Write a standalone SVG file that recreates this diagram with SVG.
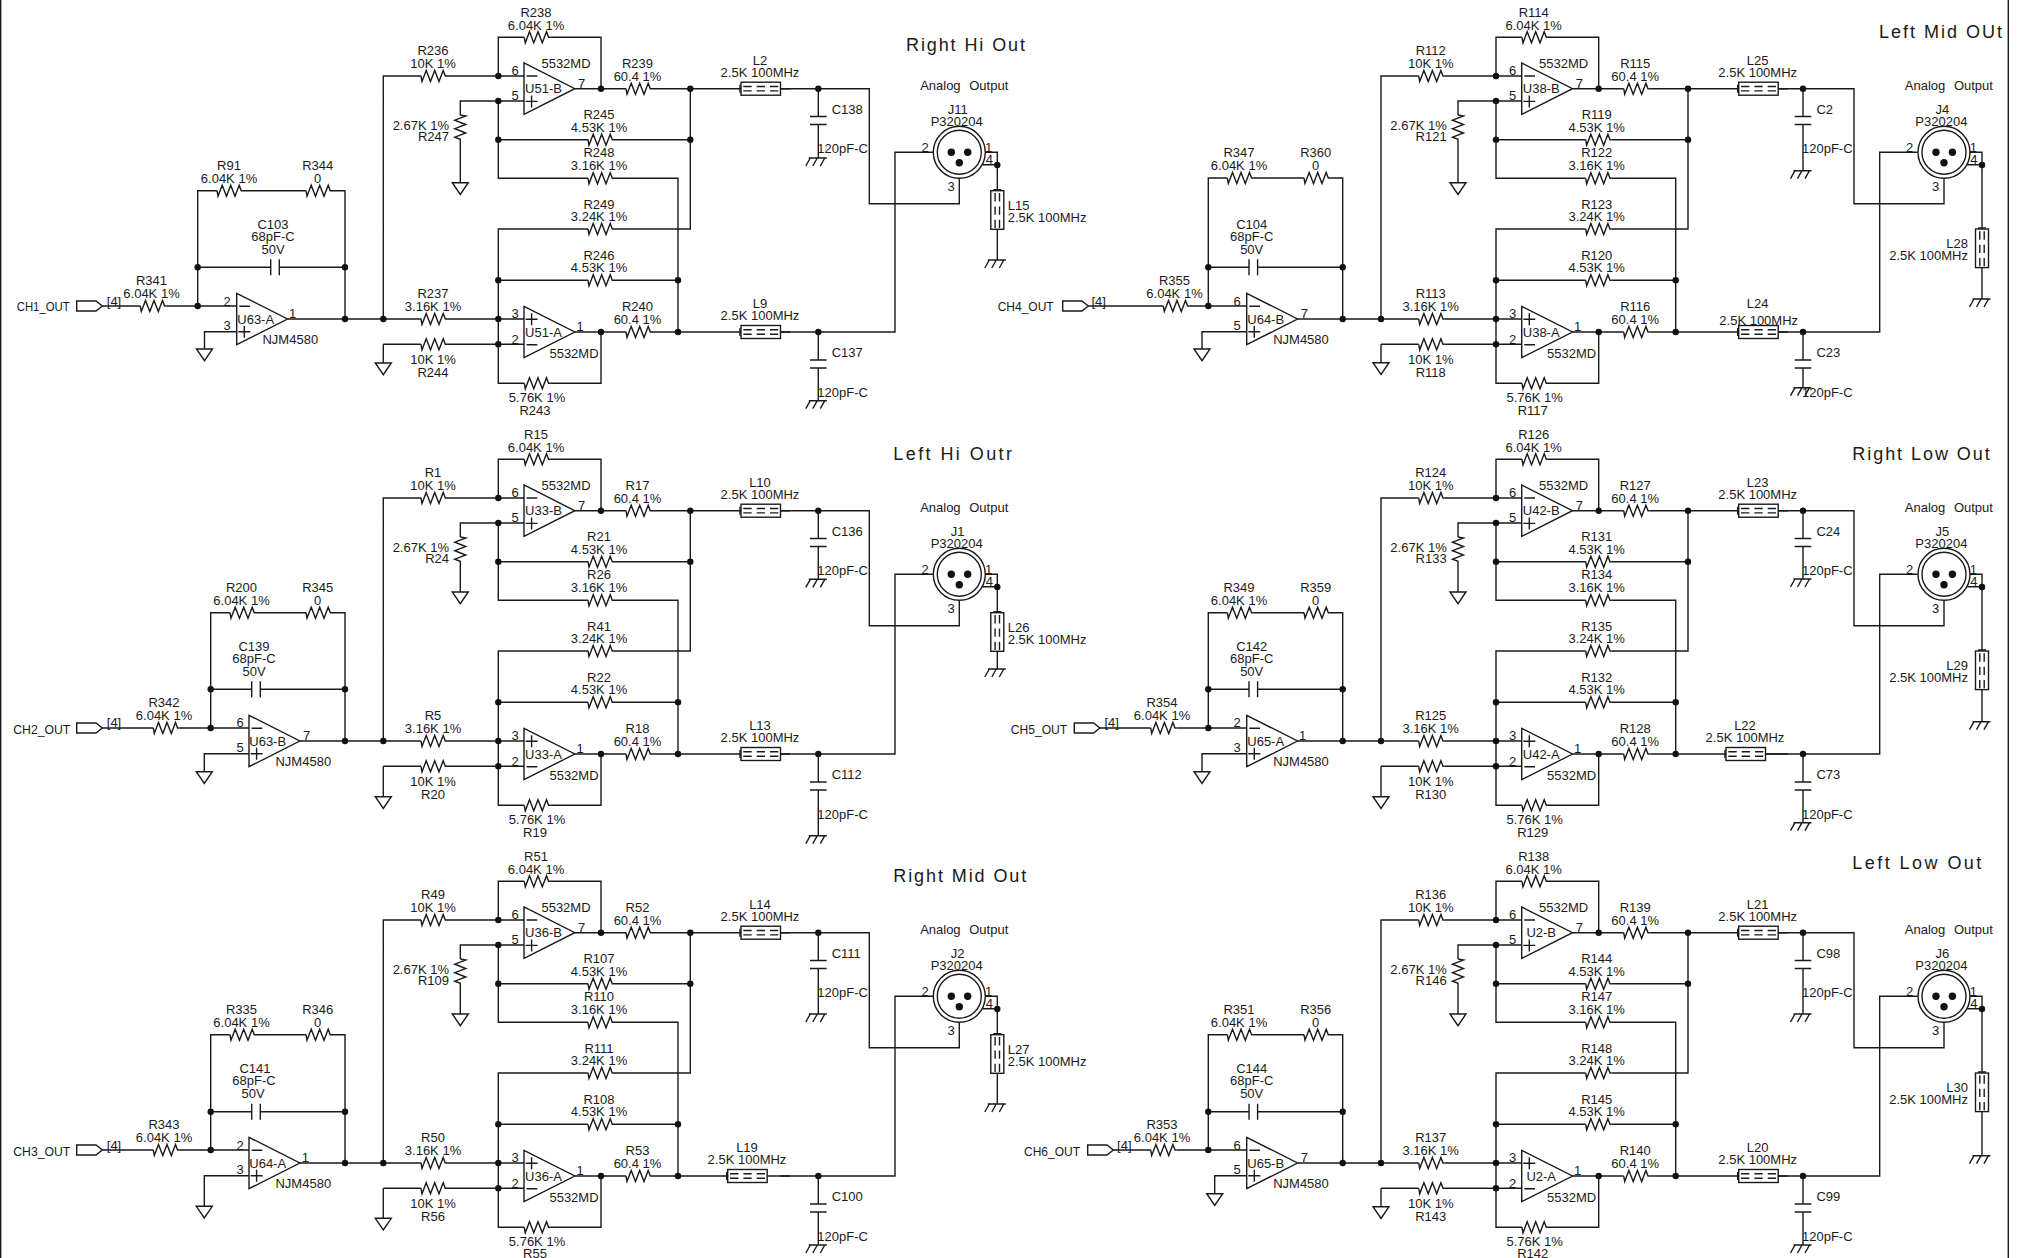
<svg xmlns="http://www.w3.org/2000/svg" width="2018" height="1258" viewBox="0 0 2018 1258">
<style>
text{font-family:"Liberation Sans",Arial,sans-serif;font-size:13px;fill:#1a1a1a;text-anchor:middle}
.s{text-anchor:start}.e{text-anchor:end}
.t{font-size:18px;text-anchor:start}
.w,.w path,.w use{fill:none;stroke:#1a1a1a;stroke-width:1.4}
.j{fill:#111;stroke:none}
.y{fill:none;stroke:#1a1a1a;stroke-width:1.4}
.f{fill:#fff;stroke:#1a1a1a;stroke-width:1.4}
.k{fill:#fff;stroke:none}
</style>
<defs>
<g id="r"><rect class="k" x="0" y="-2" width="26" height="4"/><path class="y" d="M0 0L1 5.5L5.2-5.5L9.5 5.5L13.7-5.5L18 5.5L22.2-5.5L24.3 0H26"/></g>
<g id="rv"><rect class="k" x="-2" y="0" width="4" height="26"/><path class="y" d="M0 0L5.5 1L-5.5 5.2L5.5 9.5L-5.5 13.7L5.5 18L-5.5 22.2L0 24.3V26"/></g>
<g id="c"><rect class="k" x="0" y="-2" width="8.6" height="4"/><path class="y" d="M0-8V8M8.6-8V8"/></g>
<g id="cv"><rect class="k" x="-2" y="0" width="4" height="8"/><path class="y" d="M-8.3 0H8.3M-8.3 8H8.3"/></g>
<g id="b"><rect class="f" x="0" y="-6.5" width="39.5" height="13"/><path class="y" d="M2.3-2.2H10.7M15.7-2.2H24M29-2.2H37.3M2.3 2.2H10.7M15.7 2.2H24M29 2.2H37.3M-1-4V4"/></g>
<g id="bv"><rect class="f" x="-6.5" y="0" width="13" height="38.6"/><path class="y" d="M-2.2 2.3V10.7M-2.2 15.7V24M-2.2 29V37.3M2.2 2.3V10.7M2.2 15.7V24M2.2 29V37.3M-4-1H4"/></g>
<path id="g" class="y" d="M-8 0H8L0 11.7Z"/>
<path id="ch" class="y" d="M-9.5 0H8.5M-8 0L-12.5 8M-1 0L-5.5 8M6.5 0L2 8"/>
<path id="om" class="y" d="M0-25.7V25.7L50.8 0ZM2.6-12.7H13.3M1.6 12.7H13.6M7.6 6.7V18.7"/>
<path id="op" class="y" d="M0-25.7V25.7L50.8 0ZM2.6 12.7H13.3M1.6-12.7H13.6M7.6-18.7V-6.7"/>
<path id="pt" class="y" d="M0-5H19.3L25.6 0L19.3 5H0Z"/>
<g id="x"><circle class="y" r="26"/><circle class="y" r="22"/><circle class="j" cx="-8" r="3.7"/><circle class="j" cx="8.4" r="3.7"/><circle class="j" cy="10.4" r="3.7"/></g>
<g id="sw"><path class="y" d="M383.3 319V76H524M345 319H524M498.3 76V37.3H601V88.7M524 101H460.3V115M498.3 101V178.3H678V332M498.3 139.7H690.3M575 88.7H790M690.3 88.7V229H498.3V383.3H601V332M498.3 280.3H678M498.3 344.3H524M383.3 344.3H498.3M575 332H790"/>
<g class="j"><circle cx="498.3" cy="76" r="3.2"/><circle cx="498.3" cy="101" r="3.2"/><circle cx="498.3" cy="139.7" r="3.2"/><circle cx="498.3" cy="280.3" r="3.2"/><circle cx="498.3" cy="319" r="3.2"/><circle cx="498.3" cy="344.3" r="3.2"/><circle cx="383.3" cy="319" r="3.2"/><circle cx="601" cy="88.7" r="3.2"/><circle cx="690.3" cy="88.7" r="3.2"/><circle cx="690.3" cy="139.7" r="3.2"/><circle cx="678" cy="280.3" r="3.2"/><circle cx="678" cy="332" r="3.2"/><circle cx="601" cy="332" r="3.2"/></g></g>
<g id="ow"><path class="y" d="M780 88.7H869.3V203.7H959.3V178.3M780 332H895V152.3H933M985 152.3H997.3V229M982.5 164.7H997.3"/><g class="j"><circle cx="818.3" cy="88.7" r="3.2"/><circle cx="818.3" cy="332" r="3.2"/><circle cx="997.3" cy="165" r="3.2"/></g></g>
</defs>
<rect width="2018" height="1258" fill="#fff"/>
<g id="frame"><path class="y" d="M.7 0V1258M2008.3 0V1258"/></g>

<g id="connectors">
<g transform="translate(0,0)"><use href="#sw"/><path class="y" d="M460.3 141V182.7M383.3 344.3V363"/></g>
<g transform="translate(0,422)"><use href="#sw"/><path class="y" d="M460.3 141V170M383.3 344.3V374.7"/></g>
<g transform="translate(0,844)"><use href="#sw"/><path class="y" d="M460.3 141V170M383.3 344.3V374.3"/></g>
<g transform="translate(997.7,0)"><use href="#sw"/><path class="y" d="M460.3 141V182.7M383.3 344.3V362.7"/></g>
<g transform="translate(997.7,422)"><use href="#sw"/><path class="y" d="M460.3 141V170M383.3 344.3V374.7"/></g>
<g transform="translate(997.7,844)"><use href="#sw"/><path class="y" d="M460.3 141V170M383.3 344.3V362.7"/></g>
<g transform="translate(0,0)"><use href="#ow"/><path class="y" d="M818.3 88.7V158M818.3 332V400.7M997.3 229V260"/></g>
<g transform="translate(0,422)"><use href="#ow"/><path class="y" d="M818.3 88.7V157.3M818.3 332V413.7M997.3 229V247"/></g>
<g transform="translate(0,844)"><use href="#ow"/><path class="y" d="M818.3 88.7V170M818.3 332V401M997.3 229V260"/></g>
<g transform="translate(984.7,0)"><use href="#ow"/><path class="y" d="M818.3 88.7V170.7M818.3 332V387.7M997.3 229V299"/></g>
<g transform="translate(984.7,422)"><use href="#ow"/><path class="y" d="M818.3 88.7V157M818.3 332V400.7M997.3 229V299.7"/></g>
<g transform="translate(984.7,844)"><use href="#ow"/><path class="y" d="M818.3 88.7V170M818.3 332V401M997.3 229V311.7"/></g>
<g><path class="y" d="M102.3 306H236.7M197.7 306V190.7H345V319M197.7 267.3H345M236.7 331.7H204.5V349M287.5 319H345"/><g class="j"><circle cx="197.7" cy="306" r="3.2"/><circle cx="197.7" cy="267.3" r="3.2"/><circle cx="345" cy="267.3" r="3.2"/><circle cx="345" cy="319" r="3.2"/></g></g>
<g transform="translate(0,422)"><path class="y" d="M102.3 306H249M210.7 306V190.7H345V319M210.7 267.3H345M249 331.7H204.3V349.7M299.8 319H345"/><g class="j"><circle cx="210.7" cy="306" r="3.2"/><circle cx="210.7" cy="267.3" r="3.2"/><circle cx="345" cy="267.3" r="3.2"/><circle cx="345" cy="319" r="3.2"/></g></g>
<g transform="translate(0,844)"><path class="y" d="M102.3 306H249M210.7 306V190.7H345V319M210.7 267.7H345M249 331.7H204.3V362.3M299.8 319H345"/><g class="j"><circle cx="210.7" cy="306" r="3.2"/><circle cx="210.7" cy="267.7" r="3.2"/><circle cx="345" cy="267.7" r="3.2"/><circle cx="345" cy="319" r="3.2"/></g></g>
<g><path class="y" d="M1088.3 306H1246.7M1208.3 306V178H1342.7V319M1208.3 267.3H1342.7M1246.7 331.7H1202V349M1297.5 319H1342.7"/><g class="j"><circle cx="1208.3" cy="306" r="3.2"/><circle cx="1208.3" cy="267.3" r="3.2"/><circle cx="1342.7" cy="267.3" r="3.2"/><circle cx="1342.7" cy="319" r="3.2"/></g></g>
<g transform="translate(0,422)"><path class="y" d="M1099.3 306H1246.7M1208.3 306V190.7H1342.7V319M1208.3 267.3H1342.7M1246.7 331.7H1202V349.7M1297.5 319H1342.7"/><g class="j"><circle cx="1208.3" cy="306" r="3.2"/><circle cx="1208.3" cy="267.3" r="3.2"/><circle cx="1342.7" cy="267.3" r="3.2"/><circle cx="1342.7" cy="319" r="3.2"/></g></g>
<g transform="translate(0,844)"><path class="y" d="M1113.3 306H1246.7M1208.3 306V190.7H1342.7V319M1208.3 267.7H1342.7M1246.7 331.7H1214.7V349.7M1297.5 319H1342.7"/><g class="j"><circle cx="1208.3" cy="306" r="3.2"/><circle cx="1208.3" cy="267.7" r="3.2"/><circle cx="1342.7" cy="267.7" r="3.2"/><circle cx="1342.7" cy="319" r="3.2"/></g></g>
</g>

<g id="titles">
<text class="t" x="906" y="51" textLength="119">Right Hi Out</text>
<text class="t" x="893.3" y="460" textLength="118.7">Left Hi Outr</text>
<text class="t" x="893.3" y="882" textLength="133">Right Mid Out</text>
<text class="t" x="1879" y="38" textLength="123">Left Mid OUt</text>
<text class="t" x="1852.3" y="460" textLength="137.4">Right Low Out</text>
<text class="t" x="1852.3" y="869" textLength="129">Left Low Out</text>
</g>

<!-- Block: Right Hi Out -->
<g id="stage-right-hi">
<g id="R236"><use href="#r" x="421" y="76"/><text x="433" y="55">R236</text><text x="433" y="67.5">10K 1%</text></g>
<g id="R237"><use href="#r" x="421" y="319"/><text x="433" y="298">R237</text><text x="433" y="310.5">3.16K 1%</text></g>
<g id="R244"><use href="#r" x="421" y="344.3"/><text x="433" y="364">10K 1%</text><text x="433" y="376.5">R244</text></g>
<g id="R238"><use href="#r" x="524.3" y="37.3"/><text x="536" y="17">R238</text><text x="536" y="29.5">6.04K 1%</text></g>
<g id="R239"><use href="#r" x="626" y="88.7"/><text x="637.5" y="68">R239</text><text x="637.5" y="80.5">60.4 1%</text></g>
<g id="R240"><use href="#r" x="626" y="332"/><text x="637.5" y="310.5">R240</text><text x="637.5" y="323.5">60.4 1%</text></g>
<g id="R243"><use href="#r" x="524.3" y="383.3"/><text x="537" y="402">5.76K 1%</text><text x="535" y="415">R243</text></g>
<g id="R245"><use href="#r" x="588" y="139.7"/><text x="599" y="119">R245</text><text x="599" y="131.5">4.53K 1%</text></g>
<g id="R248"><use href="#r" x="588" y="178.3"/><text x="599" y="157">R248</text><text x="599" y="170">3.16K 1%</text></g>
<g id="R249"><use href="#r" x="588" y="229"/><text x="599" y="208.5">R249</text><text x="599" y="221">3.24K 1%</text></g>
<g id="R246"><use href="#r" x="588" y="280.3"/><text x="599" y="260">R246</text><text x="599" y="272">4.53K 1%</text></g>
<g id="R247"><use href="#rv" x="460.3" y="115"/><text class="e" x="449" y="130">2.67K 1%</text><text class="e" x="449" y="141">R247</text><use href="#g" x="460.3" y="182.7"/><use href="#g" x="383.3" y="363"/></g>
<g id="U51-B"><use href="#om" x="524" y="88.7"/><text x="543.5" y="93.4">U51-B</text><text x="566" y="68">5532MD</text><text x="515" y="75">6</text><text x="515" y="100">5</text><text x="581.7" y="88">7</text></g>
<g id="U51-A"><use href="#op" x="524" y="332"/><text x="543.5" y="336.7">U51-A</text><text x="574" y="358">5532MD</text><text x="515" y="318">3</text><text x="515" y="344">2</text><text x="580" y="331">1</text></g>
<g id="L2"><use href="#b" x="741" y="88.7"/><text x="760" y="65">L2</text><text x="760" y="77">2.5K 100MHz</text></g>
<g id="L9"><use href="#b" x="741" y="332"/><text x="760" y="308">L9</text><text x="760" y="320">2.5K 100MHz</text></g>
</g>
<g id="output-right-hi">
<g id="C138"><use href="#cv" x="818.3" y="116.5"/><use href="#ch" x="818.3" y="158"/><text class="s" x="831.7" y="114">C138</text><text class="s" x="817.3" y="153">120pF-C</text></g>
<g id="C137"><use href="#cv" x="818.3" y="360"/><use href="#ch" x="818.3" y="400.7"/><text class="s" x="831.7" y="356.5">C137</text><text class="s" x="817.3" y="396.5">120pF-C</text></g>
<g id="J11"><use href="#x" x="959.3" y="152.3"/><text x="964.2" y="90" word-spacing="5">Analog Output</text><text x="957.7" y="114">J11</text><text x="956.7" y="126">P320204</text><text x="925" y="152">2</text><text x="988.7" y="151.7">1</text><text x="989.3" y="164">4</text><text x="951" y="191">3</text></g>
<g id="L15"><use href="#bv" x="997.3" y="190.7"/><use href="#ch" x="997.3" y="260"/><text class="s" x="1007.7" y="210">L15</text><text class="s" x="1007.7" y="221.5">2.5K 100MHz</text></g>
</g>
<g id="input-right-hi">
<g id="CH1_OUT"><use href="#pt" x="76.7" y="306"/><text class="s" x="16.7" y="311.4" textLength="53" lengthAdjust="spacingAndGlyphs">CH1_OUT</text><text x="114" y="305.7">[4]</text></g>
<g id="R341"><use href="#r" x="140.3" y="306"/><text x="151.5" y="285">R341</text><text x="151.5" y="298">6.04K 1%</text></g>
<g id="R91"><use href="#r" x="217" y="190.7"/><text x="229" y="170">R91</text><text x="229" y="183">6.04K 1%</text></g>
<g id="R344"><use href="#r" x="306" y="190.7"/><text x="317.7" y="170">R344</text><text x="317.7" y="183">0</text></g>
<g id="C103"><use href="#c" x="270.7" y="267.3"/><text x="273" y="229">C103</text><text x="273" y="241">68pF-C</text><text x="273" y="253.5">50V</text></g>
<g id="U63-A"><use href="#om" x="236.7" y="319"/><use href="#g" x="204.5" y="349"/><text x="255.7" y="323.7">U63-A</text><text x="290.3" y="344">NJM4580</text><text x="227" y="305.7">2</text><text x="227" y="329.7">3</text><text x="292.7" y="318">1</text></g>
</g>

<!-- Block: Left Hi Outr -->
<g id="stage-left-hi" transform="translate(0,422)">
<g id="R1"><use href="#r" x="421" y="76"/><text x="433" y="55">R1</text><text x="433" y="67.5">10K 1%</text></g>
<g id="R5"><use href="#r" x="421" y="319"/><text x="433" y="298">R5</text><text x="433" y="310.5">3.16K 1%</text></g>
<g id="R20"><use href="#r" x="421" y="344.3"/><text x="433" y="364">10K 1%</text><text x="433" y="376.5">R20</text></g>
<g id="R15"><use href="#r" x="524.3" y="37.3"/><text x="536" y="17">R15</text><text x="536" y="29.5">6.04K 1%</text></g>
<g id="R17"><use href="#r" x="626" y="88.7"/><text x="637.5" y="68">R17</text><text x="637.5" y="80.5">60.4 1%</text></g>
<g id="R18"><use href="#r" x="626" y="332"/><text x="637.5" y="310.5">R18</text><text x="637.5" y="323.5">60.4 1%</text></g>
<g id="R19"><use href="#r" x="524.3" y="383.3"/><text x="537" y="402">5.76K 1%</text><text x="535" y="415">R19</text></g>
<g id="R21"><use href="#r" x="588" y="139.7"/><text x="599" y="119">R21</text><text x="599" y="131.5">4.53K 1%</text></g>
<g id="R26"><use href="#r" x="588" y="178.3"/><text x="599" y="157">R26</text><text x="599" y="170">3.16K 1%</text></g>
<g id="R41"><use href="#r" x="588" y="229"/><text x="599" y="208.5">R41</text><text x="599" y="221">3.24K 1%</text></g>
<g id="R22"><use href="#r" x="588" y="280.3"/><text x="599" y="260">R22</text><text x="599" y="272">4.53K 1%</text></g>
<g id="R24"><use href="#rv" x="460.3" y="115"/><text class="e" x="449" y="130">2.67K 1%</text><text class="e" x="449" y="141">R24</text><use href="#g" x="460.3" y="170"/><use href="#g" x="383.3" y="374.7"/></g>
<g id="U33-B"><use href="#om" x="524" y="88.7"/><text x="543.5" y="93.4">U33-B</text><text x="566" y="68">5532MD</text><text x="515" y="75">6</text><text x="515" y="100">5</text><text x="581.7" y="88">7</text></g>
<g id="U33-A"><use href="#op" x="524" y="332"/><text x="543.5" y="336.7">U33-A</text><text x="574" y="358">5532MD</text><text x="515" y="318">3</text><text x="515" y="344">2</text><text x="580" y="331">1</text></g>
<g id="L10"><use href="#b" x="741" y="88.7"/><text x="760" y="65">L10</text><text x="760" y="77">2.5K 100MHz</text></g>
<g id="L13"><use href="#b" x="741" y="332"/><text x="760" y="308">L13</text><text x="760" y="320">2.5K 100MHz</text></g>
</g>
<g id="output-left-hi" transform="translate(0,422)">
<g id="C136"><use href="#cv" x="818.3" y="116.5"/><use href="#ch" x="818.3" y="157.3"/><text class="s" x="831.7" y="114">C136</text><text class="s" x="817.3" y="153">120pF-C</text></g>
<g id="C112"><use href="#cv" x="818.3" y="360"/><use href="#ch" x="818.3" y="413.7"/><text class="s" x="831.7" y="356.5">C112</text><text class="s" x="817.3" y="396.5">120pF-C</text></g>
<g id="J1"><use href="#x" x="959.3" y="152.3"/><text x="964.2" y="90" word-spacing="5">Analog Output</text><text x="957.7" y="114">J1</text><text x="956.7" y="126">P320204</text><text x="925" y="152">2</text><text x="988.7" y="151.7">1</text><text x="989.3" y="164">4</text><text x="951" y="191">3</text></g>
<g id="L26"><use href="#bv" x="997.3" y="190.7"/><use href="#ch" x="997.3" y="247"/><text class="s" x="1007.7" y="210">L26</text><text class="s" x="1007.7" y="221.5">2.5K 100MHz</text></g>
</g>
<g id="input-left-hi" transform="translate(0,422)">
<g id="CH2_OUT"><use href="#pt" x="76.7" y="306"/><text class="s" x="13.3" y="311.7" textLength="57" lengthAdjust="spacingAndGlyphs">CH2_OUT</text><text x="114" y="305.4">[4]</text></g>
<g id="R342"><use href="#r" x="153.3" y="306"/><text x="164" y="285.4">R342</text><text x="164" y="298">6.04K 1%</text></g>
<g id="R200"><use href="#r" x="230" y="190.7"/><text x="241.5" y="170">R200</text><text x="241.5" y="183">6.04K 1%</text></g>
<g id="R345"><use href="#r" x="306" y="190.7"/><text x="317.7" y="170">R345</text><text x="317.7" y="183">0</text></g>
<g id="C139"><use href="#c" x="251.7" y="267.3"/><text x="254" y="229">C139</text><text x="254" y="241">68pF-C</text><text x="254" y="253.7">50V</text></g>
<g id="U63-B"><use href="#om" x="249" y="319"/><use href="#g" x="204.3" y="349.7"/><text x="267.7" y="323.7">U63-B</text><text x="303.3" y="344">NJM4580</text><text x="240" y="305.4">6</text><text x="240" y="330">5</text><text x="306.7" y="318">7</text></g>
</g>

<!-- Block: Right Mid Out -->
<g id="stage-right-mid" transform="translate(0,844)">
<g id="R49"><use href="#r" x="421" y="76"/><text x="433" y="55">R49</text><text x="433" y="67.5">10K 1%</text></g>
<g id="R50"><use href="#r" x="421" y="319"/><text x="433" y="298">R50</text><text x="433" y="310.5">3.16K 1%</text></g>
<g id="R56"><use href="#r" x="421" y="344.3"/><text x="433" y="364">10K 1%</text><text x="433" y="376.5">R56</text></g>
<g id="R51"><use href="#r" x="524.3" y="37.3"/><text x="536" y="17">R51</text><text x="536" y="29.5">6.04K 1%</text></g>
<g id="R52"><use href="#r" x="626" y="88.7"/><text x="637.5" y="68">R52</text><text x="637.5" y="80.5">60.4 1%</text></g>
<g id="R53"><use href="#r" x="626" y="332"/><text x="637.5" y="310.5">R53</text><text x="637.5" y="323.5">60.4 1%</text></g>
<g id="R55"><use href="#r" x="524.3" y="383.3"/><text x="537" y="402">5.76K 1%</text><text x="535" y="414">R55</text></g>
<g id="R107"><use href="#r" x="588" y="139.7"/><text x="599" y="119">R107</text><text x="599" y="131.5">4.53K 1%</text></g>
<g id="R110"><use href="#r" x="588" y="178.3"/><text x="599" y="157">R110</text><text x="599" y="170">3.16K 1%</text></g>
<g id="R111"><use href="#r" x="588" y="229"/><text x="599" y="208.5">R111</text><text x="599" y="221">3.24K 1%</text></g>
<g id="R108"><use href="#r" x="588" y="280.3"/><text x="599" y="260">R108</text><text x="599" y="272">4.53K 1%</text></g>
<g id="R109"><use href="#rv" x="460.3" y="115"/><text class="e" x="449" y="130">2.67K 1%</text><text class="e" x="449" y="141">R109</text><use href="#g" x="460.3" y="170"/><use href="#g" x="383.3" y="374.3"/></g>
<g id="U36-B"><use href="#om" x="524" y="88.7"/><text x="543.5" y="93.4">U36-B</text><text x="566" y="68">5532MD</text><text x="515" y="75">6</text><text x="515" y="100">5</text><text x="581.7" y="88">7</text></g>
<g id="U36-A"><use href="#op" x="524" y="332"/><text x="543.5" y="336.7">U36-A</text><text x="574" y="358">5532MD</text><text x="515" y="318">3</text><text x="515" y="344">2</text><text x="580" y="331">1</text></g>
<g id="L14"><use href="#b" x="741" y="88.7"/><text x="760" y="65">L14</text><text x="760" y="77">2.5K 100MHz</text></g>
<g id="L19"><use href="#b" x="727.7" y="332"/><text x="747" y="308">L19</text><text x="747" y="320">2.5K 100MHz</text></g>
</g>
<g id="output-right-mid" transform="translate(0,844)">
<g id="C111"><use href="#cv" x="818.3" y="116.5"/><use href="#ch" x="818.3" y="170"/><text class="s" x="831.7" y="114">C111</text><text class="s" x="817.3" y="153">120pF-C</text></g>
<g id="C100"><use href="#cv" x="818.3" y="360"/><use href="#ch" x="818.3" y="401"/><text class="s" x="831.7" y="356.5">C100</text><text class="s" x="817.3" y="396.5">120pF-C</text></g>
<g id="J2"><use href="#x" x="959.3" y="152.3"/><text x="964.2" y="90" word-spacing="5">Analog Output</text><text x="957.7" y="114">J2</text><text x="956.7" y="126">P320204</text><text x="925" y="152">2</text><text x="988.7" y="151.7">1</text><text x="989.3" y="164">4</text><text x="951" y="191">3</text></g>
<g id="L27"><use href="#bv" x="997.3" y="190.7"/><use href="#ch" x="997.3" y="260"/><text class="s" x="1007.7" y="210">L27</text><text class="s" x="1007.7" y="221.5">2.5K 100MHz</text></g>
</g>
<g id="input-right-mid" transform="translate(0,844)">
<g id="CH3_OUT"><use href="#pt" x="76.7" y="306"/><text class="s" x="13.3" y="311.7" textLength="57" lengthAdjust="spacingAndGlyphs">CH3_OUT</text><text x="114" y="305.7">[4]</text></g>
<g id="R343"><use href="#r" x="153.3" y="306"/><text x="164" y="285">R343</text><text x="164" y="298">6.04K 1%</text></g>
<g id="R335"><use href="#r" x="230" y="190.7"/><text x="241.5" y="170">R335</text><text x="241.5" y="183">6.04K 1%</text></g>
<g id="R346"><use href="#r" x="306" y="190.7"/><text x="317.7" y="170">R346</text><text x="317.7" y="183">0</text></g>
<g id="C141"><use href="#c" x="251.7" y="267.7"/><text x="255" y="229">C141</text><text x="254" y="241">68pF-C</text><text x="253" y="254">50V</text></g>
<g id="U64-A"><use href="#om" x="249" y="319"/><use href="#g" x="204.3" y="362.3"/><text x="267.7" y="323.7">U64-A</text><text x="303.3" y="344">NJM4580</text><text x="240" y="305.7">2</text><text x="240" y="330">3</text><text x="305.3" y="318">1</text></g>
</g>

<!-- Block: Left Mid OUt -->
<g id="stage-left-mid" transform="translate(997.7,0)">
<g id="R112"><use href="#r" x="421" y="76"/><text x="433" y="55">R112</text><text x="433" y="67.5">10K 1%</text></g>
<g id="R113"><use href="#r" x="421" y="319"/><text x="433" y="298">R113</text><text x="433" y="310.5">3.16K 1%</text></g>
<g id="R118"><use href="#r" x="421" y="344.3"/><text x="433" y="364">10K 1%</text><text x="433" y="376.5">R118</text></g>
<g id="R114"><use href="#r" x="524.3" y="37.3"/><text x="536" y="17">R114</text><text x="536" y="29.5">6.04K 1%</text></g>
<g id="R115"><use href="#r" x="626" y="88.7"/><text x="637.5" y="68">R115</text><text x="637.5" y="80.5">60.4 1%</text></g>
<g id="R116"><use href="#r" x="626" y="332"/><text x="637.5" y="310.5">R116</text><text x="637.5" y="323.5">60.4 1%</text></g>
<g id="R117"><use href="#r" x="524.3" y="383.3"/><text x="537" y="402">5.76K 1%</text><text x="535" y="415">R117</text></g>
<g id="R119"><use href="#r" x="588" y="139.7"/><text x="599" y="119">R119</text><text x="599" y="131.5">4.53K 1%</text></g>
<g id="R122"><use href="#r" x="588" y="178.3"/><text x="599" y="157">R122</text><text x="599" y="170">3.16K 1%</text></g>
<g id="R123"><use href="#r" x="588" y="229"/><text x="599" y="208.5">R123</text><text x="599" y="221">3.24K 1%</text></g>
<g id="R120"><use href="#r" x="588" y="280.3"/><text x="599" y="260">R120</text><text x="599" y="272">4.53K 1%</text></g>
<g id="R121"><use href="#rv" x="460.3" y="115"/><text class="e" x="449" y="130">2.67K 1%</text><text class="e" x="449" y="141">R121</text><use href="#g" x="460.3" y="182.7"/><use href="#g" x="383.3" y="362.7"/></g>
<g id="U38-B"><use href="#om" x="524" y="88.7"/><text x="543.5" y="93.4">U38-B</text><text x="566" y="68">5532MD</text><text x="515" y="75">6</text><text x="515" y="100">5</text><text x="581.7" y="88">7</text></g>
<g id="U38-A"><use href="#op" x="524" y="332"/><text x="543.5" y="336.7">U38-A</text><text x="574" y="358">5532MD</text><text x="515" y="318">3</text><text x="515" y="344">2</text><text x="580" y="331">1</text></g>
<g id="L25"><use href="#b" x="741" y="88.7"/><text x="760" y="65">L25</text><text x="760" y="77">2.5K 100MHz</text></g>
<g id="L24"><use href="#b" x="741" y="332"/><text x="760" y="308">L24</text><text x="761" y="325">2.5K 100MHz</text></g>
</g>
<g id="output-left-mid" transform="translate(984.7,0)">
<g id="C2"><use href="#cv" x="818.3" y="116.5"/><use href="#ch" x="818.3" y="170.7"/><text class="s" x="831.7" y="114">C2</text><text class="s" x="817.3" y="153">120pF-C</text></g>
<g id="C23"><use href="#cv" x="818.3" y="360"/><use href="#ch" x="818.3" y="387.7"/><text class="s" x="831.7" y="356.5">C23</text><text class="s" x="817.3" y="396.5">120pF-C</text></g>
<g id="J4"><use href="#x" x="959.3" y="152.3"/><text x="964.2" y="90" word-spacing="5">Analog Output</text><text x="957.7" y="114">J4</text><text x="956.7" y="126">P320204</text><text x="925" y="152">2</text><text x="988.7" y="151.7">1</text><text x="989.3" y="164">4</text><text x="951" y="191">3</text></g>
<g id="L28"><use href="#bv" x="997.3" y="229"/><use href="#ch" x="997.3" y="299"/><text class="e" x="983.3" y="248">L28</text><text class="e" x="983.3" y="260">2.5K 100MHz</text></g>
</g>
<g id="input-left-mid">
<g id="CH4_OUT"><use href="#pt" x="1062.7" y="306"/><text class="s" x="997.7" y="311.4" textLength="56" lengthAdjust="spacingAndGlyphs">CH4_OUT</text><text x="1098.7" y="305.7">[4]</text></g>
<g id="R355"><use href="#r" x="1163.3" y="306"/><text x="1174.5" y="285">R355</text><text x="1174.5" y="298">6.04K 1%</text></g>
<g id="R347"><use href="#r" x="1227.3" y="178"/><text x="1239" y="157.4">R347</text><text x="1239" y="170">6.04K 1%</text></g>
<g id="R360"><use href="#r" x="1304" y="178"/><text x="1315.7" y="157.4">R360</text><text x="1315.7" y="170">0</text></g>
<g id="C104"><use href="#c" x="1249" y="267.3"/><text x="1251.7" y="229">C104</text><text x="1251.7" y="241">68pF-C</text><text x="1251.7" y="253.5">50V</text></g>
<g id="U64-B"><use href="#om" x="1246.7" y="319"/><use href="#g" x="1202" y="349"/><text x="1265.7" y="323.7">U64-B</text><text x="1301" y="344">NJM4580</text><text x="1237" y="305.7">6</text><text x="1237" y="329.7">5</text><text x="1304.3" y="318">7</text></g>
</g>

<!-- Block: Right Low Out -->
<g id="stage-right-low" transform="translate(997.7,422)">
<g id="R124"><use href="#r" x="421" y="76"/><text x="433" y="55">R124</text><text x="433" y="67.5">10K 1%</text></g>
<g id="R125"><use href="#r" x="421" y="319"/><text x="433" y="298">R125</text><text x="433" y="310.5">3.16K 1%</text></g>
<g id="R130"><use href="#r" x="421" y="344.3"/><text x="433" y="364">10K 1%</text><text x="433" y="376.5">R130</text></g>
<g id="R126"><use href="#r" x="524.3" y="37.3"/><text x="536" y="17">R126</text><text x="536" y="29.5">6.04K 1%</text></g>
<g id="R127"><use href="#r" x="626" y="88.7"/><text x="637.5" y="68">R127</text><text x="637.5" y="80.5">60.4 1%</text></g>
<g id="R128"><use href="#r" x="626" y="332"/><text x="637.5" y="310.5">R128</text><text x="637.5" y="323.5">60.4 1%</text></g>
<g id="R129"><use href="#r" x="524.3" y="383.3"/><text x="537" y="402">5.76K 1%</text><text x="535" y="415">R129</text></g>
<g id="R131"><use href="#r" x="588" y="139.7"/><text x="599" y="119">R131</text><text x="599" y="131.5">4.53K 1%</text></g>
<g id="R134"><use href="#r" x="588" y="178.3"/><text x="599" y="157">R134</text><text x="599" y="170">3.16K 1%</text></g>
<g id="R135"><use href="#r" x="588" y="229"/><text x="599" y="208.5">R135</text><text x="599" y="221">3.24K 1%</text></g>
<g id="R132"><use href="#r" x="588" y="280.3"/><text x="599" y="260">R132</text><text x="599" y="272">4.53K 1%</text></g>
<g id="R133"><use href="#rv" x="460.3" y="115"/><text class="e" x="449" y="130">2.67K 1%</text><text class="e" x="449" y="141">R133</text><use href="#g" x="460.3" y="170"/><use href="#g" x="383.3" y="374.7"/></g>
<g id="U42-B"><use href="#om" x="524" y="88.7"/><text x="543.5" y="93.4">U42-B</text><text x="566" y="68">5532MD</text><text x="515" y="75">6</text><text x="515" y="100">5</text><text x="581.7" y="88">7</text></g>
<g id="U42-A"><use href="#op" x="524" y="332"/><text x="543.5" y="336.7">U42-A</text><text x="574" y="358">5532MD</text><text x="515" y="318">3</text><text x="515" y="344">2</text><text x="580" y="331">1</text></g>
<g id="L23"><use href="#b" x="741" y="88.7"/><text x="760" y="65">L23</text><text x="760" y="77">2.5K 100MHz</text></g>
<g id="L22"><use href="#b" x="728.3" y="332"/><text x="747.3" y="308">L22</text><text x="747.3" y="320">2.5K 100MHz</text></g>
</g>
<g id="output-right-low" transform="translate(984.7,422)">
<g id="C24"><use href="#cv" x="818.3" y="116.5"/><use href="#ch" x="818.3" y="157"/><text class="s" x="831.7" y="114">C24</text><text class="s" x="817.3" y="153">120pF-C</text></g>
<g id="C73"><use href="#cv" x="818.3" y="360"/><use href="#ch" x="818.3" y="400.7"/><text class="s" x="831.7" y="356.5">C73</text><text class="s" x="817.3" y="396.5">120pF-C</text></g>
<g id="J5"><use href="#x" x="959.3" y="152.3"/><text x="964.2" y="90" word-spacing="5">Analog Output</text><text x="957.7" y="114">J5</text><text x="956.7" y="126">P320204</text><text x="925" y="152">2</text><text x="988.7" y="151.7">1</text><text x="989.3" y="164">4</text><text x="951" y="191">3</text></g>
<g id="L29"><use href="#bv" x="997.3" y="229"/><use href="#ch" x="997.3" y="299.7"/><text class="e" x="983.3" y="248">L29</text><text class="e" x="983.3" y="260">2.5K 100MHz</text></g>
</g>
<g id="input-right-low" transform="translate(0,422)">
<g id="CH5_OUT"><use href="#pt" x="1074.3" y="306"/><text class="s" x="1010.7" y="311.7" textLength="56.6" lengthAdjust="spacingAndGlyphs">CH5_OUT</text><text x="1111.7" y="305.4">[4]</text></g>
<g id="R354"><use href="#r" x="1150.7" y="306"/><text x="1162" y="285.4">R354</text><text x="1162" y="298">6.04K 1%</text></g>
<g id="R349"><use href="#r" x="1227.3" y="190.7"/><text x="1239" y="170">R349</text><text x="1239" y="183">6.04K 1%</text></g>
<g id="R359"><use href="#r" x="1304" y="190.7"/><text x="1315.7" y="170">R359</text><text x="1315.7" y="183">0</text></g>
<g id="C142"><use href="#c" x="1249" y="267.3"/><text x="1251.7" y="229">C142</text><text x="1251.7" y="241">68pF-C</text><text x="1251.7" y="253.7">50V</text></g>
<g id="U65-A"><use href="#om" x="1246.7" y="319"/><use href="#g" x="1202" y="349.7"/><text x="1265.7" y="323.7">U65-A</text><text x="1301" y="344">NJM4580</text><text x="1237" y="305.4">2</text><text x="1237" y="330">3</text><text x="1302.7" y="318">1</text></g>
</g>

<!-- Block: Left Low Out -->
<g id="stage-left-low" transform="translate(997.7,844)">
<g id="R136"><use href="#r" x="421" y="76"/><text x="433" y="55">R136</text><text x="433" y="67.5">10K 1%</text></g>
<g id="R137"><use href="#r" x="421" y="319"/><text x="433" y="298">R137</text><text x="433" y="310.5">3.16K 1%</text></g>
<g id="R143"><use href="#r" x="421" y="344.3"/><text x="433" y="364">10K 1%</text><text x="433" y="376.5">R143</text></g>
<g id="R138"><use href="#r" x="524.3" y="37.3"/><text x="536" y="17">R138</text><text x="536" y="29.5">6.04K 1%</text></g>
<g id="R139"><use href="#r" x="626" y="88.7"/><text x="637.5" y="68">R139</text><text x="637.5" y="80.5">60.4 1%</text></g>
<g id="R140"><use href="#r" x="626" y="332"/><text x="637.5" y="310.5">R140</text><text x="637.5" y="323.5">60.4 1%</text></g>
<g id="R142"><use href="#r" x="524.3" y="383.3"/><text x="537" y="402">5.76K 1%</text><text x="535" y="414">R142</text></g>
<g id="R144"><use href="#r" x="588" y="139.7"/><text x="599" y="119">R144</text><text x="599" y="131.5">4.53K 1%</text></g>
<g id="R147"><use href="#r" x="588" y="178.3"/><text x="599" y="157">R147</text><text x="599" y="170">3.16K 1%</text></g>
<g id="R148"><use href="#r" x="588" y="229"/><text x="599" y="208.5">R148</text><text x="599" y="221">3.24K 1%</text></g>
<g id="R145"><use href="#r" x="588" y="280.3"/><text x="599" y="260">R145</text><text x="599" y="272">4.53K 1%</text></g>
<g id="R146"><use href="#rv" x="460.3" y="115"/><text class="e" x="449" y="130">2.67K 1%</text><text class="e" x="449" y="141">R146</text><use href="#g" x="460.3" y="170"/><use href="#g" x="383.3" y="362.7"/></g>
<g id="U2-B"><use href="#om" x="524" y="88.7"/><text x="543.5" y="93.4">U2-B</text><text x="566" y="68">5532MD</text><text x="515" y="75">6</text><text x="515" y="100">5</text><text x="581.7" y="88">7</text></g>
<g id="U2-A"><use href="#op" x="524" y="332"/><text x="543.5" y="336.7">U2-A</text><text x="574" y="358">5532MD</text><text x="515" y="318">3</text><text x="515" y="344">2</text><text x="580" y="331">1</text></g>
<g id="L21"><use href="#b" x="741" y="88.7"/><text x="760" y="65">L21</text><text x="760" y="77">2.5K 100MHz</text></g>
<g id="L20"><use href="#b" x="741" y="332"/><text x="760" y="308">L20</text><text x="760" y="320">2.5K 100MHz</text></g>
</g>
<g id="output-left-low" transform="translate(984.7,844)">
<g id="C98"><use href="#cv" x="818.3" y="116.5"/><use href="#ch" x="818.3" y="170"/><text class="s" x="831.7" y="114">C98</text><text class="s" x="817.3" y="153">120pF-C</text></g>
<g id="C99"><use href="#cv" x="818.3" y="360"/><use href="#ch" x="818.3" y="401"/><text class="s" x="831.7" y="356.5">C99</text><text class="s" x="817.3" y="396.5">120pF-C</text></g>
<g id="J6"><use href="#x" x="959.3" y="152.3"/><text x="964.2" y="90" word-spacing="5">Analog Output</text><text x="957.7" y="114">J6</text><text x="956.7" y="126">P320204</text><text x="925" y="152">2</text><text x="988.7" y="151.7">1</text><text x="989.3" y="164">4</text><text x="951" y="191">3</text></g>
<g id="L30"><use href="#bv" x="997.3" y="229"/><use href="#ch" x="997.3" y="311.7"/><text class="e" x="983.3" y="248">L30</text><text class="e" x="983.3" y="260">2.5K 100MHz</text></g>
</g>
<g id="input-left-low" transform="translate(0,844)">
<g id="CH6_OUT"><use href="#pt" x="1087.7" y="306"/><text class="s" x="1024" y="311.7" textLength="56" lengthAdjust="spacingAndGlyphs">CH6_OUT</text><text x="1124.3" y="305.7">[4]</text></g>
<g id="R353"><use href="#r" x="1150.7" y="306"/><text x="1162" y="285">R353</text><text x="1162" y="298">6.04K 1%</text></g>
<g id="R351"><use href="#r" x="1227.3" y="190.7"/><text x="1239" y="170">R351</text><text x="1239" y="183">6.04K 1%</text></g>
<g id="R356"><use href="#r" x="1304" y="190.7"/><text x="1315.7" y="170">R356</text><text x="1315.7" y="183">0</text></g>
<g id="C144"><use href="#c" x="1249" y="267.7"/><text x="1251.7" y="229">C144</text><text x="1251.7" y="241">68pF-C</text><text x="1251.7" y="254">50V</text></g>
<g id="U65-B"><use href="#om" x="1246.7" y="319"/><use href="#g" x="1214.7" y="349.7"/><text x="1265.7" y="323.7">U65-B</text><text x="1301" y="344">NJM4580</text><text x="1237" y="305.7">6</text><text x="1237" y="330">5</text><text x="1304.3" y="318">7</text></g>
</g>
</svg>
